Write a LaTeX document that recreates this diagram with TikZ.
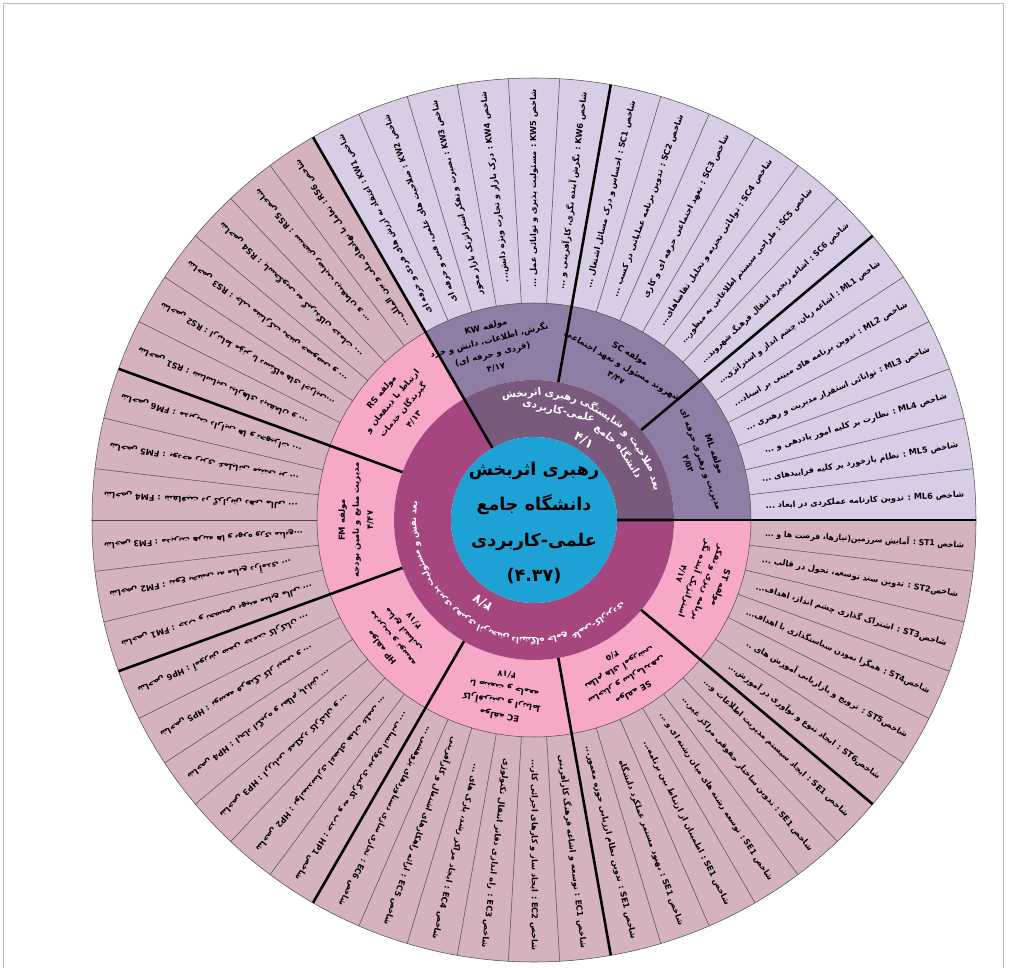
\documentclass[tikz,border=0pt]{standalone}
\usepackage{graphicx}
\usepackage{fontspec}
\usetikzlibrary{decorations.text}
\newfontfamily\farsi[Script=Arabic]{DejaVu Sans}
\TeXXeTstate=1
\newcommand{\fa}[1]{\beginR #1\endR}
\newcommand{\dd}{...}
\newcommand{\dt}{..}
\definecolor{hubblue}{RGB}{30,162,214}
\definecolor{dimA}{RGB}{122,90,124}
\definecolor{dimB}{RGB}{165,70,127}
\definecolor{compA}{RGB}{142,126,165}
\definecolor{compB}{RGB}{247,168,200}
\definecolor{indA}{RGB}{216,205,229}
\definecolor{indB}{RGB}{213,178,192}
\definecolor{linegray}{RGB}{75,75,75}
% indicator text, squeezed when longer than the ring
\newcommand{\indbox}[1]{\setbox0=\hbox{\fa{#1}}\ifdim\wd0>170pt\resizebox{170pt}{\height}{\box0}\else\box0\fi}
\newcommand{\arcbig}{\farsi\bfseries\fontsize{8.8}{9}\selectfont}
\newcommand{\arcsmall}{\farsi\bfseries\fontsize{7.4}{8}\selectfont}
\begin{document}
\begin{tikzpicture}[x=0.03cm,y=0.03cm,line join=round,
  thinline/.style={linegray,line width=0.45pt},
  thickline/.style={black,line width=2.2pt},
  indtext/.style={font=\farsi\bfseries\fontsize{7}{8}\selectfont,inner sep=0pt,anchor=east},
  comptext/.style={font=\farsi\bfseries\fontsize{7.2}{12}\selectfont,align=center,inner sep=0pt},
  numtext/.style={font=\farsi\bfseries\fontsize{11}{12}\selectfont,text=white,inner sep=0pt},
  arctext/.style={decorate,decoration={text along path,text color=white,text align=center,raise=-2.8pt,text={#1}}}]
\useasboundingbox (0,0) rectangle (1012,967);
\draw[gray!55,line width=0.6pt] (3,-10)--(3,964)--(1003,964)--(1003,-10);
\begin{scope}[shift={(534,447)}]
% indicator slices
\foreach \i in {0,...,53}{
  \pgfmathsetmacro\aa{120-\i*20/3}
  \pgfmathsetmacro\ab{\aa-20/3}
  \ifnum\i<18 \def\c{indA}\else\def\c{indB}\fi
  \fill[\c] (\aa:217) arc[start angle=\aa,end angle=\ab,radius=217]--(\ab:442) arc[start angle=\ab,end angle=\aa,radius=442]--cycle;
  \draw[thinline] (\aa:217)--(\aa:442);
}
% components
\foreach \k in {0,...,8}{
  \pgfmathsetmacro\aa{120-\k*40}
  \pgfmathsetmacro\ab{\aa-40}
  \ifnum\k<3 \def\c{compA}\else\def\c{compB}\fi
  \fill[\c] (\aa:140) arc[start angle=\aa,end angle=\ab,radius=140]--(\ab:217) arc[start angle=\ab,end angle=\aa,radius=217]--cycle;
}
% dimensions
\fill[dimA] (0:83) arc[start angle=0,end angle=120,radius=83]--(120:140) arc[start angle=120,end angle=0,radius=140]--cycle;
\fill[dimB] (120:83) arc[start angle=120,end angle=360,radius=83]--(360:140) arc[start angle=360,end angle=120,radius=140]--cycle;
\draw[thinline] (0,0) circle(217) (0,0) circle(442);
\foreach \a in {0,40,...,320} \draw[thickline] (\a:140)--(\a:442);
\draw[thickline] (0:83)--(0:140) (120:83)--(120:140);
\fill[hubblue] (0,0) circle(83);
% indicators
\foreach \t [count=\i from 0] in {
 {شاخص KW1 : اعتقاد به ارزش های فردی و حرفه ای},
 {شاخص KW2 : صلاحیت های علمی، فنی و حرفه ای},
 {شاخص KW3 : بصیرت و تفکر استراتژیک بازار محور},
 {شاخص KW4 : درک بازار و تجارت ویژه دانش\dd},
 {شاخص KW5 : مسئولیت پذیری و توانائی عمل \dd},
 {شاخص KW6 : نگرش آینده نگری، کارآفرینی و \dd},
 {شاخص SC1 : احساس و درک مسائل اشتغال \dd},
 {شاخص SC2 : تدوین برنامه عملیاتی در کسب \dd},
 {شاخص SC3 : تعهد اجتماعی حرفه ای و کاری},
 {شاخص SC4 : توانائی تجزیه و تحلیل تقاضاهای\dd},
 {شاخص SC5 : طراحی سیستم اطلاعاتی به منظور\dd},
 {شاخص SC6 : اشاعه زنجیره انتقال فرهنگ شهروند\dd},
 {شاخص ML1 : اشاعه زبان، چشم انداز و استراتژی\dd},
 {شاخص ML2 : تدوین برنامه های مبتنی بر اسناد\dd},
 {شاخص ML3 : توانائی استقرار مدیریت و رهبری \dd},
 {شاخص ML4 : نظارت بر کلیه امور یاددهی و \dd},
 {شاخص ML5 : نظام بازخورد بر کلیه فرایندهای \dd},
 {شاخص ML6 : تدوین کارنامه عملکردی در ابعاد \dd},
 {شاخص ST1 : آمایش سرزمین(نیازها، فرصت ها و \dd},
 {شاخصST2 : تدوین سند توسعه، تحول در قالب \dd},
 {شاخصST3 : اشتراک گذاری چشم انداز، اهداف\dd},
 {شاخصST4 : همگرا نمودن سیاستگذاری با اهداف\dd},
 {شاخصST5 : ترویج و بازاریابی آموزش های \dt},
 {شاخصST6 : ایجاد تنوع و نوآوری در آموزش\dd},
 {شاخص SE1 : ایجاد سیستم مدیریت اطلاعات و\dd},
 {شاخص SE1 : تدوین ساختار حقوقی مراکز غیر\dd},
 {شاخص SE1 : توسعه رشته های میان رشته ای و \dd},
 {شاخص SE1 : اطمینان از ارتباط بین برنامه\dd},
 {شاخص SE1 : بهبود مستمر عملکرد دانشگاه},
 {شاخص SE1 : تدوین نظام ارزیابی حوزه معمور\dd},
 {شاخص EC1 : توسعه و اشاعه فرهنگ کارآفرینی},
 {شاخص EC2 : ایجاد ساز و کارهای اجرائی کار\dd},
 {شاخص EC3 : راه اندازی دفاتر انتقال تکنولوژی},
 {شاخص EC4 : ایجاد مراکز رشد، پارک های \dd},
 {شاخص EC5 : ارائه راهکارهای اشتغال و کارآفرینی},
 {شاخص EC6 : تجاری سازی دستاوردهای پژوهشی \dd},
 {شاخص HP1 : جذب و به کارگیری نیروی انسانی \dd},
 {شاخص HP2 : توانمندسازی اعضای هیات علمی \dd},
 {شاخص HP3 : ارزیابی عملکرد کارکنان و \dd},
 {شاخص HP4 : ایجاد انگیزه و نظام پاداش \dd},
 {شاخص HP5 : توسعه فرهنگ کار تیمی و \dd},
 {شاخص HP6 : آموزش ضمن خدمت کارکنان \dd},
 {شاخص FM1 : جذب و تخصیص بهینه منابع مالی \dd},
 {شاخص FM2 : تنوع بخشی به منابع درآمدی \dd},
 {شاخص FM3 : مدیریت هزینه ها و بهره وری منابع\dd},
 {شاخص FM4 : شفافیت در گزارش دهی مالی \dd},
 {شاخص FM5 : بودجه ریزی عملیاتی مبتنی بر \dd},
 {شاخص FM6 : مدیریت دارایی ها و تجهیزات \dd},
 {شاخص RS1 : شناسایی نیازهای ذینفعان و \dd},
 {شاخص RS2 : ارتباط مؤثر با دستگاه های اجرایی\dd},
 {شاخص RS3 : جلب مشارکت بخش خصوصی و \dd},
 {شاخص RS4 : پاسخگویی به گیرندگان خدمات \dd},
 {شاخص RS5 : سنجش رضایت ذینفعان و \dd},
 {شاخص RS6 : تعامل با نهادهای ملی و بین المللی\dd}}{
  \pgfmathsetmacro\ang{120-(\i+0.5)*20/3}
  \node[indtext,rotate=\ang] (ind\i) at (\ang:431) {\indbox{\t}};
}
% component labels
\path
 (104:178) node[comptext,rotate=14] (KW) {\fa{مولفه KW}\\\fa{نگرش، اطلاعات، دانش و خرد}\\\fa{(فردی و حرفه ای)}\\۴/۱۷}
 (60:178) node[comptext,rotate=-30] (SC) {\fa{مولفه SC}\\\fa{شهروند مسئول و تعهد اجتماعی}\\۴/۴۷}
 (20:178) node[comptext,rotate=-70] (ML) {\fa{مولفه ML}\\\fa{مدیریت و رهبری حرفه ای}\\۴/۵۳}
 (340:178) node[comptext,rotate=250] (ST) {\fa{مولفه ST}\\\fa{برنامه ریزی و تفکر}\\\fa{استراتژیک آینده نگر}\\۴/۱۷}
 (300:178) node[comptext,rotate=210] (SE) {\fa{مولفه SE}\\\fa{ساختار و سازماندهی}\\\fa{نظام های آموزشی}\\۴/۵}
 (260:178) node[comptext,rotate=170] (EC) {\fa{مولفه EC}\\\fa{کارآفرینی و ارتباط}\\\fa{با صنعت و جامعه}\\۴/۱۷}
 (220:178) node[comptext,rotate=130] (HP) {\fa{مولفه HP}\\\fa{مدیریت و توسعه}\\\fa{منابع انسانی}\\۴/۱۷}
 (180:178) node[comptext,rotate=90] (FM) {\fa{مولفه FM}\\\fa{مدیریت منابع و تامین بودجه}\\۴/۴۷}
 (140:178) node[comptext,rotate=50] (RS) {\fa{مولفه RS}\\\fa{ارتباط با ذینفعان و}\\\fa{گیرندگان خدمات}\\۴/۱۳};
% dimension texts, words in reverse order since the arcs run clockwise
\path[arctext={|\arcbig|{اثربخش} {رهبری} {شایستگی} {و} {صلاحیت} {بعد}}] (104:127) arc[start angle=104,end angle=14,radius=127];
\path[arctext={|\arcbig|{علمی-کاربردی} {جامع} {دانشگاه}}] (100:112) arc[start angle=100,end angle=18,radius=112];
\path[arctext={|\arcsmall|{علمی-کاربردی} {جامع} {دانشگاه} {اثربخش} {رهبری} {پذیری} {مسئولیت} {و} {نقش} {بعد}}] (322:121) arc[start angle=322,end angle=166,radius=121];
\path
 (58:94) node[numtext,rotate=-32] (dimAn) {۴/۱}
 (238:97) node[numtext,rotate=148] (dimBn) {۴/۷};
% hub
\node[font=\farsi\bfseries\fontsize{15}{30}\selectfont,align=center] (hub) at (0,-3) {\fa{رهبری اثربخش}\\\fa{دانشگاه جامع}\\\fa{علمی-کاربردی}\\(۴.۳۷)};
\end{scope}
\end{tikzpicture}
\end{document}
